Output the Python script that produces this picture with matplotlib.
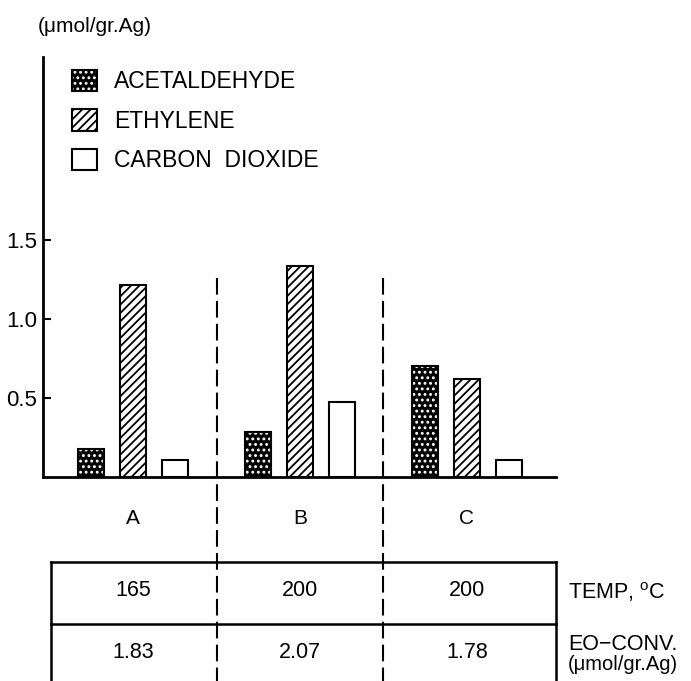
import matplotlib
matplotlib.use("Agg")
import matplotlib.pyplot as plt
from matplotlib.patches import Patch
from matplotlib.legend_handler import HandlerTuple
from matplotlib.transforms import blended_transform_factory

plt.rcParams['font.family'] = ['Liberation Sans', 'DejaVu Sans']
plt.rcParams['mathtext.fontset'] = 'custom'
plt.rcParams['mathtext.rm'] = 'Liberation Sans'
plt.rcParams['hatch.linewidth'] = 1.3

# --- data ---
categories = ['A', 'B', 'C']
acetaldehyde = [0.18, 0.285, 0.70]
ethylene = [1.215, 1.335, 0.62]
carbon_dioxide = [0.11, 0.475, 0.11]
temps = ['165', '200', '200']
eo_conv = ['1.83', '2.07', '1.78']
yticks = [0.5, 1.0, 1.5]

W, H = 691, 681
fig = plt.figure(figsize=(W / 100, H / 100), dpi=100)

def px(x0, y0, x1, y1):
    # pixel box (top-left origin) -> figure fraction rect
    return [x0 / W, 1 - y1 / H, (x1 - x0) / W, (y1 - y0) / H]

ax = fig.add_axes(px(43, 57, 556, 477))
ax.set_xlim(-0.539, 2.533)
ax.set_ylim(0, 2.66)

xs = list(range(len(categories)))
off, bw = 0.25, 0.156
lw = 1.5
DOTS = '...'

# acetaldehyde: black with white dots, outline drawn on top
ax.bar([x - off for x in xs], acetaldehyde, bw, facecolor='black',
       edgecolor='white', hatch=DOTS, linewidth=0)
ax.bar([x - off for x in xs], acetaldehyde, bw, fill=False,
       edgecolor='black', linewidth=lw)
ax.bar(xs, ethylene, bw, facecolor='white', edgecolor='black',
       hatch='////', linewidth=lw)
ax.bar([x + off for x in xs], carbon_dioxide, bw, facecolor='white',
       edgecolor='black', linewidth=lw)

for s in ['top', 'right']:
    ax.spines[s].set_visible(False)
ax.spines['left'].set_linewidth(2)
ax.spines['bottom'].set_linewidth(2)
ax.set_xticks([])
ax.set_yticks(yticks)
ax.set_yticklabels([f'{v:.1f}' for v in yticks])
ax.tick_params(axis='y', direction='in', length=6, width=1.5, pad=4,
               labelsize=16)

# unit label at the top
fig.text(38 / W, 1 - 27 / H, '(\u03bcmol/gr.Ag)', fontsize=15,
         ha='left', va='center')

# legend
h_acet = (Patch(facecolor='black', edgecolor='white', hatch=DOTS, linewidth=0),
          Patch(fill=False, edgecolor='black', linewidth=lw))
h_eth = Patch(facecolor='white', edgecolor='black', hatch='////', linewidth=lw)
h_co2 = Patch(facecolor='white', edgecolor='black', linewidth=lw)
ax.legend([h_acet, h_eth, h_co2], ['ACETALDEHYDE', 'ETHYLENE', 'CARBON  DIOXIDE'],
          handler_map={tuple: HandlerTuple(ndivide=1)},
          loc='upper left', bbox_to_anchor=(72 / W, 1 - 70 / H),
          bbox_transform=fig.transFigure, frameon=False, fontsize=16.5,
          handlelength=1.1, handleheight=1.05, handletextpad=0.75,
          labelspacing=0.7, borderpad=0, borderaxespad=0)

# group letters
trans = blended_transform_factory(ax.transData, fig.transFigure)
for x, c in zip(xs, categories):
    ax.text(x, 1 - 518 / H, c, transform=trans, ha='center', va='center',
            fontsize=15)

# dashed dividers running down through the table
for xd in [0.5, 1.5]:
    ax.plot([xd, xd], [1 - 278 / H, 0], transform=trans, color='black',
            linewidth=1.5, linestyle=(0, (8, 3)), clip_on=False)

# table below the chart
x_left, x_right = -0.49, 2.535
y_top, y_mid = 1 - 562 / H, 1 - 623.5 / H
tl = dict(transform=trans, color='black', linewidth=1.8, clip_on=False)
ax.plot([x_left, x_right], [y_top, y_top], **tl)
ax.plot([x_left, x_right], [y_mid, y_mid], **tl)
ax.plot([x_left, x_left], [y_top, 0], **tl)
ax.plot([x_right, x_right], [y_top, 0], **tl)

for x, t, e in zip(xs, temps, eo_conv):
    ax.text(x, 1 - 591 / H, t, transform=trans, ha='center', va='center',
            fontsize=15.5)
    ax.text(x, 1 - 653 / H, e, transform=trans, ha='center', va='center',
            fontsize=15.5)

fig.text(568 / W, 1 - 592 / H, r'TEMP, $^{\rm o}$C', fontsize=15.5,
         ha='left', va='center')
fig.text(568 / W, 1 - 645 / H, 'EO\u2212CONV.', fontsize=15.5,
         ha='left', va='center')
fig.text(568 / W, 1 - 665 / H, '(\u03bcmol/gr.Ag)', fontsize=14.5,
         ha='left', va='center')

fig.savefig('out.png', dpi=100)
